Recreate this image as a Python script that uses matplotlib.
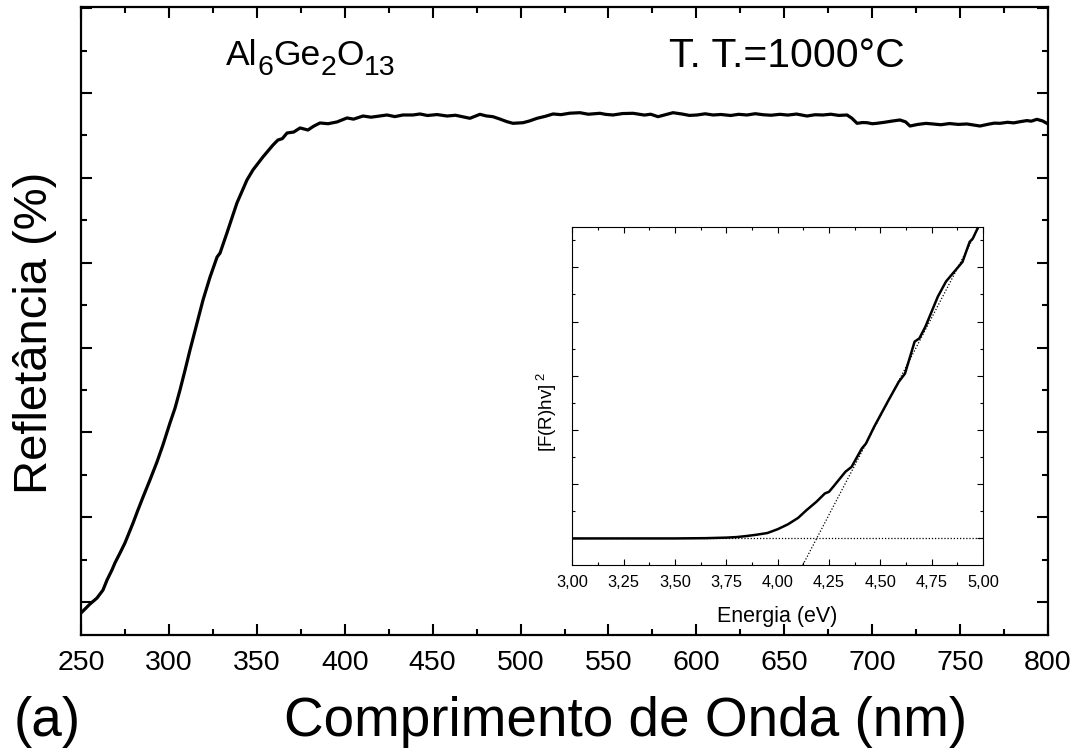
import matplotlib
matplotlib.use("Agg")
import matplotlib.pyplot as plt
from matplotlib.ticker import MultipleLocator, NullFormatter, FuncFormatter

plt.rcParams['font.family'] = ['Liberation Sans', 'DejaVu Sans']
plt.rcParams['mathtext.fontset'] = 'custom'
plt.rcParams['mathtext.rm'] = 'Liberation Sans'
plt.rcParams['mathtext.it'] = 'Liberation Sans'

# diffuse reflectance spectrum
wavelength = [250.0, 255.1, 259.1, 262.5, 264.8, 267.6, 269.3, 272.2, 275.0, 277.3,
              279.6, 282.4, 285.3, 289.2, 293.2, 296.6, 300.6, 303.5, 306.3, 309.2,
              312.0, 316.0, 319.4, 323.4, 327.4, 329.1, 333.0, 338.7, 344.4, 347.8,
              353.5, 359.2, 362.0, 364.5, 367.2, 371.0, 374.6, 379.1, 382.0, 385.9,
              390.5, 395.6, 401.3, 405.0, 410.4, 415.0, 420.1, 424.0, 428.5, 433.1,
              438.8, 442.8, 447.0, 452.5, 458.2, 463.0, 467.5, 471.2, 476.9, 480.5,
              484.3, 488.0, 492.3, 495.7, 501.4, 505.0, 509.4, 514.0, 518.5, 523.0,
              528.0, 533.8, 538.5, 545.2, 548.5, 552.6, 558.0, 564.0, 570.5, 574.0,
              578.2, 582.5, 586.7, 592.0, 596.0, 600.4, 605.0, 609.5, 614.0, 619.5,
              624.0, 628.8, 633.5, 638.0, 642.5, 647.6, 652.0, 657.0, 662.9, 667.5,
              672.0, 676.5, 681.0, 685.7, 688.5, 691.4, 694.5, 697.1, 700.0, 702.7,
              707.0, 711.5, 715.8, 719.0, 721.5, 726.0, 730.5, 734.6, 739.0, 744.0,
              749.0, 753.9, 758.0, 761.3, 766.0, 769.5, 772.7, 777.0, 780.5, 784.1,
              788.0, 790.5, 793.7, 797.0, 800.0]
reflectance = [8.70, 9.76, 10.47, 11.41, 12.59, 13.77, 14.60, 15.78, 16.96, 18.14,
               19.31, 20.85, 22.38, 24.38, 26.50, 28.51, 31.10, 32.87, 34.99, 37.35,
               39.71, 42.89, 45.60, 48.31, 50.67, 51.14, 53.50, 57.04, 59.75, 60.93,
               62.47, 63.87, 64.46, 64.62, 65.29, 65.40, 65.88, 65.64, 66.05, 66.47,
               66.38, 66.59, 67.06, 66.92, 67.29, 67.15, 67.29, 67.41, 67.22, 67.41,
               67.41, 67.53, 67.35, 67.46, 67.29, 67.38, 67.18, 67.02, 67.49, 67.30,
               67.21, 66.95, 66.62, 66.43, 66.50, 66.70, 67.02, 67.25, 67.53, 67.45,
               67.62, 67.68, 67.50, 67.61, 67.48, 67.41, 67.58, 67.61, 67.40, 67.50,
               67.21, 67.45, 67.68, 67.52, 67.36, 67.41, 67.55, 67.41, 67.47, 67.35,
               67.49, 67.41, 67.56, 67.44, 67.38, 67.49, 67.40, 67.52, 67.29, 67.44,
               67.41, 67.50, 67.36, 67.41, 67.02, 66.43, 66.52, 66.50, 66.38, 66.43,
               66.55, 66.70, 66.82, 66.60, 66.11, 66.30, 66.42, 66.35, 66.26, 66.40,
               66.30, 66.35, 66.22, 66.11, 66.32, 66.45, 66.43, 66.55, 66.48, 66.62,
               66.75, 66.68, 66.90, 66.70, 66.35]

# inset: Kubelka-Munk plot
energy = [3.00, 3.25, 3.50, 3.65, 3.75, 3.80, 3.85, 3.90, 3.95, 4.00,
          4.05, 4.10, 4.14, 4.19, 4.23, 4.25, 4.27, 4.33, 4.36, 4.41,
          4.43, 4.47, 4.51, 4.54, 4.59, 4.62, 4.64, 4.667, 4.69, 4.72,
          4.78, 4.82, 4.88, 4.90, 4.935, 4.95, 4.99]
km_value = [0.0, 0.0, 0.0, 0.005, 0.015, 0.025, 0.045, 0.07, 0.10, 0.17,
            0.26, 0.38, 0.52, 0.68, 0.83, 0.86, 0.95, 1.23, 1.32, 1.66,
            1.75, 2.06, 2.34, 2.55, 2.89, 3.04, 3.29, 3.63, 3.69, 3.91,
            4.46, 4.74, 5.01, 5.10, 5.47, 5.53, 5.85]
gap_energy = 4.19
fit_slope = 7.27

# sample formula, written as (text, is_subscript) pieces
formula = [('Al', False), ('6', True), ('Ge', False), ('2', True), ('O', False), ('13', True)]

W, H = 1082, 749
fig = plt.figure(figsize=(W / 100, H / 100), dpi=100)
renderer = fig.canvas.get_renderer()

ax = fig.add_axes([81 / W, 1 - 635 / H, (1048 - 81) / W, (635 - 7) / H])
ax.plot(wavelength, reflectance, color='black', lw=2.3)
ax.set_xlim(250, 800)
ax.set_ylim(6.11, 80.14)
ax.xaxis.set_major_locator(MultipleLocator(50))
ax.xaxis.set_minor_locator(MultipleLocator(25))
ax.yaxis.set_major_locator(MultipleLocator(10))
ax.yaxis.set_minor_locator(MultipleLocator(5))
ax.yaxis.set_major_formatter(NullFormatter())
ax.tick_params(which='both', direction='in', top=True, right=True, width=1.5)
ax.tick_params(which='major', length=7.7)
ax.tick_params(which='minor', length=4)
ax.tick_params(axis='x', labelsize=20.5, pad=11)
for s in ax.spines.values():
    s.set_linewidth(1.6)

# formula label: place each piece after the previous one
x_px = 226
for piece, is_sub in formula:
    y_px = 75 if is_sub else 65
    t = fig.text(x_px / W, 1 - y_px / H, piece, fontsize=20.5 if is_sub else 25.5,
                 va='baseline')
    x_px += t.get_window_extent(renderer).width

fig.text(669 / W, 1 - 66.7 / H, 'T. T.=1000°C', fontsize=29.5, va='baseline')

fig.text(35 / W, 1 - 333 / H, 'Refletância (%)', fontsize=34, rotation=90,
         ha='center', va='center')
fig.text(626 / W, 1 - 736 / H, 'Comprimento de Onda (nm)', fontsize=39.5,
         ha='center', va='baseline')
fig.text(14 / W, 1 - 736 / H, '(a)', fontsize=39.5, va='baseline')

# inset
ins = fig.add_axes([572.3 / W, 1 - 565 / H, (983 - 572.3) / W, (565 - 226.7) / H])
ins.plot(energy, km_value, color='black', lw=1.8, zorder=3)
ins.plot([3.0, 5.0], [0, 0], color='black', lw=0.9, ls=(0, (1, 1.5)))
y_lo, y_hi = -0.49, 5.75
ins.plot([gap_energy + y_lo / fit_slope, gap_energy + y_hi / fit_slope], [y_lo, y_hi],
         color='black', lw=0.9, ls=(0, (1, 1.5)))
ins.set_xlim(3.0, 5.0)
ins.set_ylim(y_lo, y_hi)
ins.xaxis.set_major_locator(MultipleLocator(0.25))
ins.xaxis.set_minor_locator(MultipleLocator(0.125))
ins.yaxis.set_major_locator(MultipleLocator(1))
ins.yaxis.set_minor_locator(MultipleLocator(0.5))
ins.yaxis.set_major_formatter(NullFormatter())
ins.xaxis.set_major_formatter(FuncFormatter(lambda v, p: f'{v:.2f}'.replace('.', ',')))
ins.tick_params(which='both', direction='in', top=True, right=True, width=0.8)
ins.tick_params(which='major', length=4.3)
ins.tick_params(which='minor', length=2.2)
ins.tick_params(axis='x', labelsize=11.8, pad=7)
ins.set_xlabel('Energia (eV)', fontsize=15.5, labelpad=12)
for s in ins.spines.values():
    s.set_linewidth(0.8)

fig.text(547 / W, 1 - 412 / H, r'[F(R)hv]$^{\ 2}$', fontsize=13.5, rotation=90,
         ha='center', va='center')

fig.savefig('out.png', dpi=100)
